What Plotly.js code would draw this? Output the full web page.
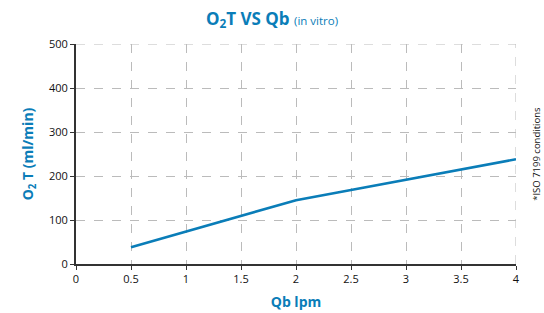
<!DOCTYPE html>
<html><head><meta charset="utf-8">
<script src="https://cdn.plot.ly/plotly-3.0.1.min.js"></script>
<style>html,body{margin:0;padding:0;background:#fff}</style>
</head><body>
<div id="chart" style="width:544px;height:313px"></div>
<script>
const qb = [0.5, 1, 1.5, 2, 2.5, 3, 3.5, 4];
const o2t = [38, 74, 109, 145, 168, 191, 215, 238];
const xTicks = [0, 0.5, 1, 1.5, 2, 2.5, 3, 3.5, 4];
const yTicks = [0, 100, 200, 300, 400, 500];
const blue = '#0a7db8';
const fontFam = '"Open Sans", "DejaVu Sans", sans-serif';

Plotly.newPlot('chart', [{
  x: qb, y: o2t, type: 'scatter', mode: 'lines',
  line: {color: blue, width: 2.6}, hoverinfo: 'none'
}], {
  width: 544, height: 313,
  margin: {l: 76, r: 28, t: 44, b: 49},
  paper_bgcolor: '#fff', plot_bgcolor: '#fff',
  font: {family: fontFam, color: '#111', size: 11},
  showlegend: false,
  title: {text: '<b>O<sub>2</sub>T VS Qb</b> <span style="font-size:11.5px">(in vitro)</span>',
    font: {family: fontFam, size: 17, color: blue}, x: 0.5, xanchor: 'center', y: 0.94, yanchor: 'middle'},
  xaxis: {range: [0, 4], tickvals: xTicks, ticktext: xTicks.map(String),
    showgrid: true, gridcolor: '#bbb', griddash: 'dash', gridwidth: 1,
    showline: true, linecolor: '#333', linewidth: 2, ticks: 'outside', ticklen: 4, tickcolor: '#333',
    zeroline: false, fixedrange: true,
    title: {text: '<b>Qb lpm</b>', font: {family: fontFam, size: 14, color: blue}, standoff: 12}},
  yaxis: {range: [0, 500], tickvals: yTicks, ticktext: yTicks.map(String),
    showgrid: true, gridcolor: '#bbb', griddash: 'dash', gridwidth: 1,
    showline: true, linecolor: '#333', linewidth: 2, ticks: 'outside', ticklen: 4, tickcolor: '#333',
    zeroline: false, fixedrange: true,
    title: {text: '<b>O<sub>2</sub> T (ml/min)</b>', font: {family: fontFam, size: 14, color: blue}, standoff: 12}},
  shapes: [
    {type: 'line', xref: 'x', yref: 'y', x0: 4, x1: 4, y0: 0, y1: 500, line: {color: '#bbb', width: 1, dash: 'dash'}},
    {type: 'line', xref: 'x', yref: 'y', x0: 0, x1: 4, y0: 500, y1: 500, line: {color: '#bbb', width: 1, dash: 'dash'}}
  ],
  annotations: [{text: '*ISO 7199 conditions', xref: 'paper', yref: 'paper', x: 1.045, y: 0.5,
    xanchor: 'center', yanchor: 'middle', textangle: -90, showarrow: false,
    font: {family: fontFam, size: 9.5, color: '#111'}}]
}, {displayModeBar: false, staticPlot: true});
</script>
</body></html>
